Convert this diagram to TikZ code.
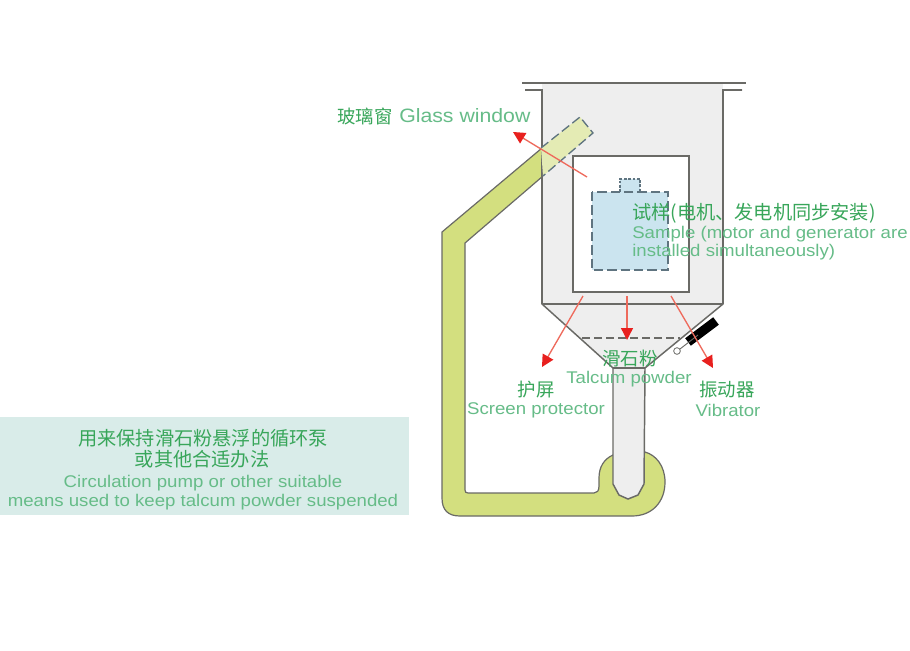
\documentclass[tikz,border=0pt]{standalone}
\usepackage{fontspec}
\usetikzlibrary{arrows.meta}
\newfontfamily\cjkf{Noto Sans CJK SC}
\newfontfamily\enf[FakeStretch=1.1]{Liberation Sans}
\definecolor{wallc}{HTML}{6A6A66}
\definecolor{chamberc}{HTML}{EEEEEE}
\definecolor{pipec}{HTML}{D3DF7F}
\definecolor{glassc}{HTML}{E4EBB4}
\definecolor{samplec}{HTML}{CBE4EF}
\definecolor{dashc}{HTML}{5F7480}
\definecolor{arrowc}{HTML}{EE6A5C}
\definecolor{headc}{HTML}{E8201E}
\definecolor{cnc}{HTML}{38A65A}
\definecolor{enc}{HTML}{66BC88}
\definecolor{bandc}{HTML}{D9ECE9}
\tikzset{
  wall/.style={draw=wallc,line width=1.1pt},
  pointer/.style={draw=arrowc,line width=1pt,-{Triangle[length=9pt,width=9pt,color=headc,fill=headc]}},
  cntext/.style={inner sep=0pt,text=cnc,font=\cjkf\fontsize{14.4pt}{16pt}\selectfont},
  cnsmall/.style={cntext,font=\cjkf\fontsize{13.8pt}{16pt}\selectfont},
  entext/.style={inner sep=0pt,text=enc,font=\enf\fontsize{12.7pt}{14pt}\selectfont},
  enlarge/.style={entext,font=\enf\fontsize{14.5pt}{16pt}\selectfont},
}
\begin{document}
\begin{tikzpicture}[x=0.75pt,y=-0.75pt]
\useasboundingbox (0,0) rectangle (910,650);
\fill[white] (0,0) rectangle (910,650);
% band
\fill[bandc] (0,417) rectangle (409,515);
% circulation pipe
\draw[wallc,line width=.9pt,fill=pipec,line join=round]
  (542,148) -- (442,232) -- (442,498) .. controls (442,510) and (448,516) .. (460,516)
  -- (632,516) .. controls (652,516) and (665,502) .. (665,482)
  .. controls (665,466) and (656,455) .. (645,452) -- (613,455)
  .. controls (604,459) and (599,467) .. (599,478) -- (599,486)
  .. controls (599,491) and (597,493) .. (594,493) -- (468,493)
  .. controls (466,493) and (465,492) .. (465,490) -- (465,243) -- (543,176) -- cycle;
% chamber
\draw[wall,fill=chamberc] (525,90) -- (542,90) -- (542,304) -- (613,368) -- (613,484)
  -- (619,495) -- (628,499) -- (638,495) -- (644,484) -- (645,368) -- (723,304)
  -- (723,90) -- (742,90);
\fill[chamberc] (542,84) rectangle (723,100);
\draw[wall] (525,90) -- (542,90) -- (542,304) (723,304) -- (723,90) -- (742,90);
\draw[wall] (522,83) -- (746,83);
\draw[wall] (542,304) -- (723,304);
\draw[wall] (613,368) -- (645,368);
% glass window
\fill[glassc] (541,148) -- (580,117) -- (593,133) -- (543,176) -- cycle;
\draw[dashc,line width=1pt,dash pattern=on 7pt off 3pt] (541,148) -- (580,117) -- (593,133) -- (543,176);
% protective screen
\draw[wall,fill=white] (573,156) rectangle (689,292);
% sample
\fill[samplec] (592,192) rectangle (668,270);
\fill[samplec] (620,179) rectangle (640,192);
\draw[dashc,line width=1.1pt,dash pattern=on 7pt off 3pt] (592,192) rectangle (668,270);
\draw[dashc,line width=.9pt,dash pattern=on 2pt off 1.2pt] (620,192) -- (620,179) -- (640,179) -- (640,192);
% powder level
\draw[wallc,line width=.9pt,dash pattern=on 6pt off 3pt] (582,338) -- (680,338);
% vibrator
\draw[black,line width=7pt] (688,342) -- (716,321);
\draw[wallc,line width=.7pt] (680,349) -- (698,335);
\node[circle,draw=wallc,fill=white,line width=.6pt,minimum size=5pt,inner sep=0pt] (ring) at (677,351) {};
% pointers
\coordinate (gs) at (587,177); \coordinate (ge) at (513,132);
\coordinate (ss) at (583,296); \coordinate (se) at (542,367);
\coordinate (ts) at (627,296); \coordinate (te) at (627,340);
\coordinate (vs) at (671,296); \coordinate (ve) at (713,368);
\draw[pointer] (gs) -- (ge);
\draw[pointer] (ss) -- (se);
\draw[pointer] (ts) -- (te);
\draw[pointer] (vs) -- (ve);
% labels
\node[cnsmall,anchor=west] (glasscn) at (337,116) {玻璃窗};
\node[enlarge,anchor=west] (glassen) at (399,115.5) {Glass window};
\node[cntext,anchor=west] (samplecn) at (632,213) {试样(电机、发电机同步安装)};
\node[entext,anchor=west] (sampleen) at (632,234) {Sample (motor and generator are};
\node[entext,anchor=west] (sampleenb) at (632,252) {installed simultaneously)};
\node[cnsmall] (talccn) at (630,359) {滑石粉};
\node[entext] (talcen) at (629,379) {Talcum powder};
\node[cnsmall] (scrcn) at (536,390) {护屏};
\node[entext] (scren) at (536,410) {Screen protector};
\node[cnsmall] (vibcn) at (727,390) {振动器};
\node[entext] (viben) at (728,410) {Vibrator};
\node[cntext] (pumpa) at (203,438) {用来保持滑石粉悬浮的循环泵};
\node[cntext] (pumpb) at (202,459) {或其他合适办法};
\node[entext] (pumpc) at (203,483) {Circulation pump or other suitable};
\node[entext] (pumpd) at (203,502) {means used to keep talcum powder suspended};
\end{tikzpicture}
\end{document}
